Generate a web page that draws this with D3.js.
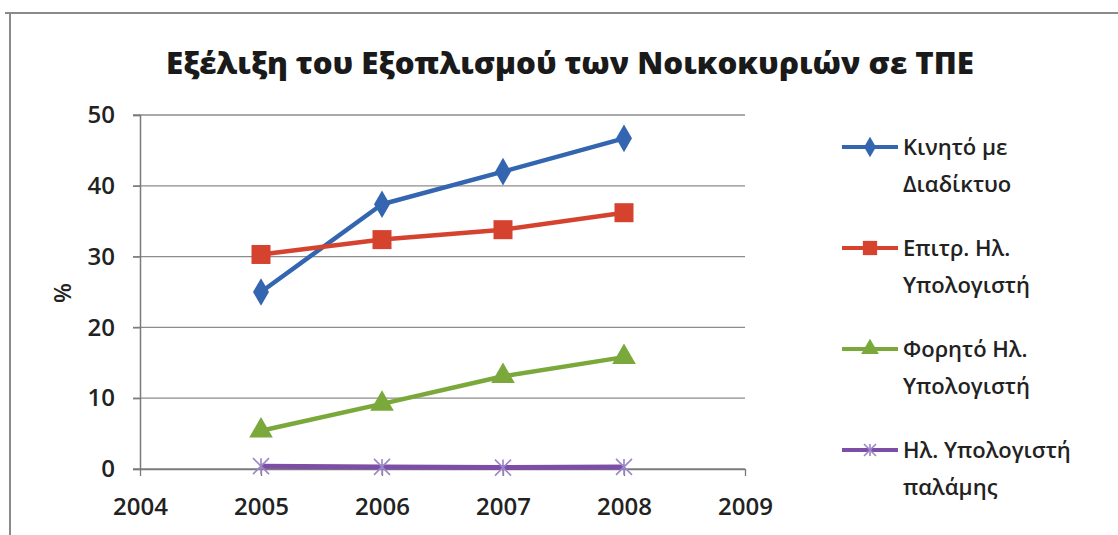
<!DOCTYPE html>
<html><head><meta charset="utf-8">
<script src="https://cdn.jsdelivr.net/npm/d3@7"></script>
<style>html,body{margin:0;padding:0;background:#fff;}svg{display:block;}</style>
</head><body>
<svg id="c" width="1118" height="535"></svg>
<script>
const title = "Εξέλιξη του Εξοπλισμού των Νοικοκυριών σε ΤΠΕ";
const years = [2005, 2006, 2007, 2008];
const xTicks = [2004, 2005, 2006, 2007, 2008, 2009];
const yTicks = [0, 10, 20, 30, 40, 50];
const mobileInternet = [25, 37.4, 42, 46.7];
const desktopPC = [30.3, 32.4, 33.8, 36.2];
const laptopPC = [5.4, 9.2, 13.1, 15.8];
const palmPC = [0.4, 0.3, 0.2, 0.3];
const seriesNames = [["Κινητό με", "Διαδίκτυο"], ["Επιτρ. Ηλ.", "Υπολογιστή"], ["Φορητό Ηλ.", "Υπολογιστή"], ["Ηλ. Υπολογιστή", "παλάμης"]];
const seriesColors = ["#3465b0", "#d5432f", "#7aa83a", "#7d4ea6"];
const seriesMarkers = ["diamond", "square", "triangle", "cross"];

const series = [mobileInternet, desktopPC, laptopPC, palmPC].map((v, i) => ({
  name: seriesNames[i], values: v, color: seriesColors[i], marker: seriesMarkers[i]
}));

const svg = d3.select("#c");
const font = "'Open Sans', 'Noto Sans', sans-serif";

// frame
svg.append("line").attr("x1", 5).attr("x2", 1118).attr("y1", 13).attr("y2", 13)
  .attr("stroke", "#8a8a8a").attr("stroke-width", 2);
svg.append("line").attr("x1", 10).attr("x2", 10).attr("y1", 13).attr("y2", 535)
  .attr("stroke", "#8a8a8a").attr("stroke-width", 2);

// title
svg.append("text").attr("x", 570).attr("y", 74).attr("text-anchor", "middle")
  .attr("font-family", font).attr("font-weight", 800).attr("font-size", 30)
  .attr("fill", "#1a1a1a").attr("textLength", 808).attr("lengthAdjust", "spacingAndGlyphs")
  .text(title);

const x = d3.scaleLinear().domain([2004, 2009]).range([140, 745]);
const y = d3.scaleLinear().domain([0, 50]).range([469, 115]);

// gridlines
svg.append("g").selectAll("line").data(yTicks).join("line")
  .attr("x1", 133).attr("x2", 745)
  .attr("y1", d => y(d)).attr("y2", d => y(d))
  .attr("stroke", "#8c8c8c").attr("stroke-width", 1.3);

// y axis
const yAxis = svg.append("g").attr("transform", "translate(140,0)")
  .call(d3.axisLeft(y).tickValues(yTicks).tickSize(7).tickPadding(18));
yAxis.select(".domain").attr("stroke", "#7a7a7a").attr("stroke-width", 1.5);
yAxis.selectAll(".tick line").attr("stroke", "#7a7a7a").attr("stroke-width", 1.3);
yAxis.selectAll("text").attr("font-family", font).attr("font-size", 24)
  .attr("font-weight", 600).attr("fill", "#222");

// x axis
const xAxis = svg.append("g").attr("transform", "translate(0,469)")
  .call(d3.axisBottom(x).tickValues(xTicks).tickFormat(d3.format("d")).tickSize(7).tickPadding(22).tickSizeOuter(0));
xAxis.select(".domain").attr("stroke", "#7a7a7a").attr("stroke-width", 1.5);
xAxis.selectAll(".tick line").attr("stroke", "#7a7a7a").attr("stroke-width", 1.3);
xAxis.selectAll("text").attr("font-family", font).attr("font-size", 24)
  .attr("font-weight", 600).attr("fill", "#222");

// y label
svg.append("text").attr("transform", "translate(71,293) rotate(-90)")
  .attr("text-anchor", "middle").attr("font-family", font).attr("font-size", 23)
  .attr("font-weight", 600).attr("fill", "#222").text("%");

function marker(g, type, color, size) {
  if (type === "diamond") {
    g.append("path").attr("d", d3.symbol(d3.symbolDiamond, size * size * 0.55)())
      .attr("fill", color);
  } else if (type === "square") {
    g.append("rect").attr("x", -size / 2).attr("y", -size / 2).attr("width", size).attr("height", size)
      .attr("fill", color);
  } else if (type === "triangle") {
    g.append("path").attr("d", d3.symbol(d3.symbolTriangle, size * size * 0.5)())
      .attr("fill", color);
  } else {
    const h = size / 2;
    g.append("path").attr("d", `M${-h},${-h}L${h},${h}M${-h},${h}L${h},${-h}M0,${-h}L0,${h}`)
      .attr("stroke", "#9b86c9").attr("stroke-width", 1.6).attr("fill", "none");
  }
}

const sizes = {diamond: 20, square: 19, triangle: 22, cross: 16};
const line = d3.line().x((d, i) => x(years[i])).y(d => y(d));
series.forEach(s => {
  svg.append("path").datum(s.values).attr("d", line)
    .attr("fill", "none").attr("stroke", s.color).attr("stroke-width", s.marker === "cross" ? 5 : 4.5)
    .attr("stroke-linejoin", "round");
  s.values.forEach((v, i) => {
    const g = svg.append("g").attr("transform", `translate(${x(years[i])},${y(v)})`);
    marker(g, s.marker, s.color, sizes[s.marker]);
  });
});

// legend
const legend = svg.append("g");
const legY = [147, 248, 349, 450];
series.forEach((s, i) => {
  const g = legend.append("g").attr("transform", `translate(0,${legY[i]})`);
  g.append("line").attr("x1", 842).attr("x2", 898).attr("y1", 0).attr("y2", 0)
    .attr("stroke", s.color).attr("stroke-width", 4);
  const mg = g.append("g").attr("transform", "translate(870,0)");
  marker(mg, s.marker, s.color, sizes[s.marker] * 0.75);
  s.name.forEach((t, j) => {
    g.append("text").attr("x", 903).attr("y", j * 37 + 8)
      .attr("font-family", font).attr("font-size", 22).attr("font-weight", 600)
      .attr("fill", "#222").text(t);
  });
});
</script>
</body></html>
